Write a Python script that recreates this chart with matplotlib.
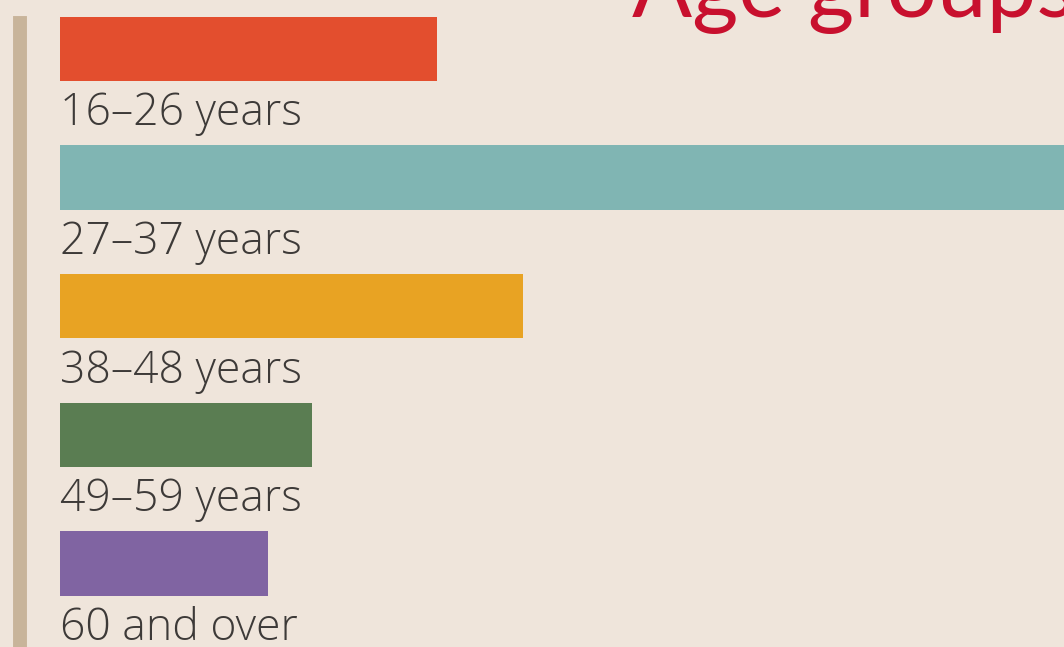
import matplotlib
matplotlib.use("Agg")
from matplotlib import pyplot as plt

# age groups and bar lengths
groups = ['16\u201326 years', '27\u201337 years', '38\u201348 years', '49\u201359 years', '60 and over']
values = [377, 1060, 463, 252, 208]
colors = ['#E34E2E', '#80B5B3', '#E8A323', '#5A7D52', '#8064A2']

bg = '#EFE5DB'

fig = plt.figure(figsize=(10.64, 6.47), dpi=100)
fig.patch.set_facecolor(bg)
ax = fig.add_axes([0, 0, 1, 1])
ax.set_facecolor(bg)
ax.set_xlim(-60, 1004)

# each group takes one row; bar in top half, label below
rows = list(range(len(groups)))
ax.set_ylim(4.9, -0.13)
ax.barh(rows, values, height=0.5, left=0, color=colors, align='edge')

for i, g in enumerate(groups):
    ax.text(0, i + 0.585, g, fontsize=32, color='#3d3a38', family='Open Sans',
            fontweight='light', va='top', ha='left')

# vertical accent line on the left
ax.axvline(-40, ymin=0, ymax=0.965, color='#C8B49A', lw=10)

ax.text(572, 0.0, 'Age groups', fontsize=64, color='#C8102E', family='Lato',
        va='baseline', ha='left')

ax.axis('off')
fig.savefig('out.png', dpi=100, facecolor=bg)
